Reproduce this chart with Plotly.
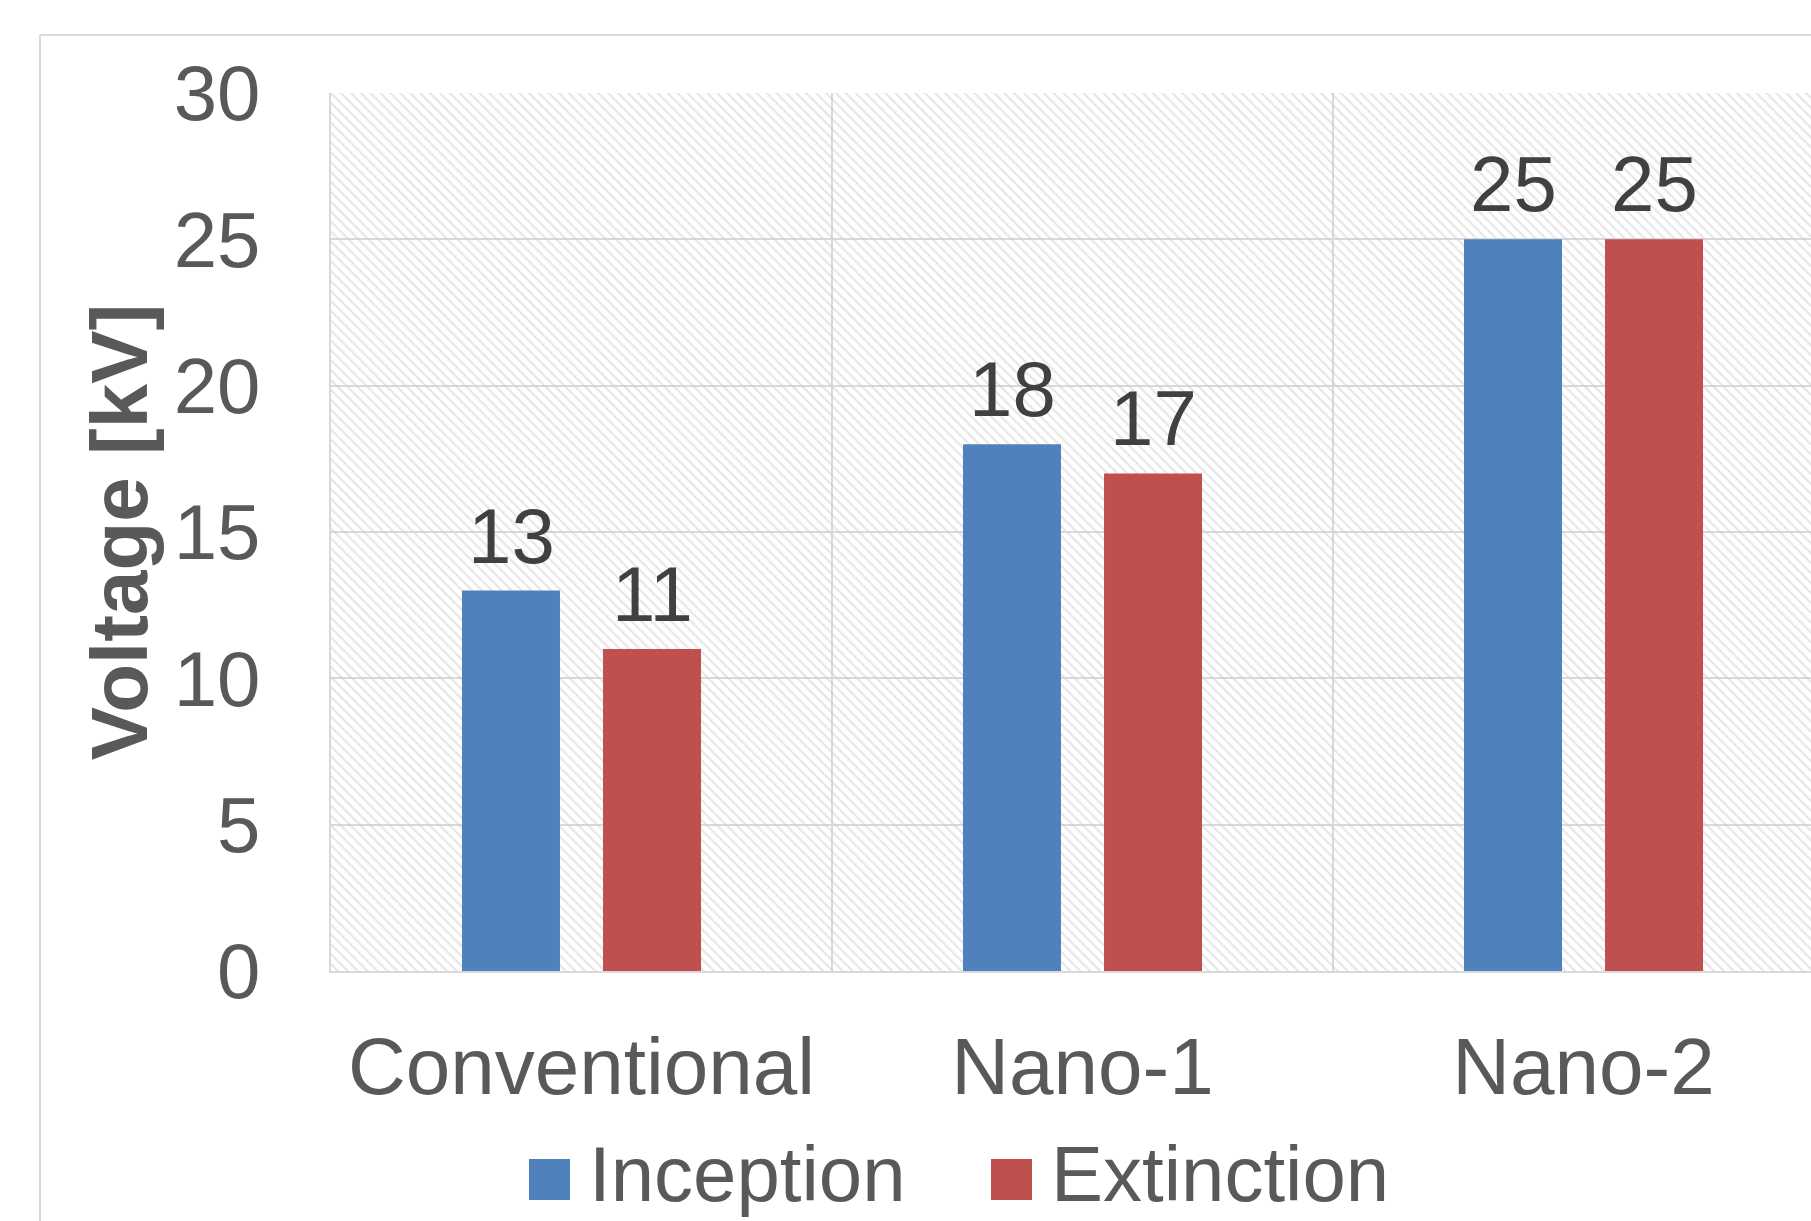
import plotly.graph_objects as go

categories = ["Conventional", "Nano-1", "Nano-2"]
inception = [13, 18, 25]
extinction = [11, 17, 25]
series_names = ["Inception", "Extinction"]
y_ticks = [0, 5, 10, 15, 20, 25, 30]

W, H = 1811, 1221
L, T, R, B = 331, 93, 0, 250
PW, PH = W - L - R, H - T - B

def px_x(x):
    return (x - L) / PW

def px_y(y):
    return (H - B - y) / PH

BLUE = "#4F81BD"
RED = "#C0504D"
GRID = "#d9d9d9"
FONT = "Liberation Sans, Arial, sans-serif"

fig = go.Figure()

# hatched plot-area background
fig.add_trace(go.Bar(
    x=[0.5], y=[max(y_ticks)], width=[1], xaxis="x", yaxis="y",
    marker=dict(color="rgba(0,0,0,0)", line=dict(width=0),
                pattern=dict(shape="\\", fgcolor="#cccccc", bgcolor="rgba(0,0,0,0)",
                             size=7, solidity=0.3)),
    showlegend=False, hoverinfo="skip",
))

for name, vals, col in zip(series_names, [inception, extinction], [BLUE, RED]):
    fig.add_trace(go.Bar(
        x=categories, y=vals, name=name, xaxis="x2", yaxis="y",
        marker=dict(color=col, line=dict(width=0)),
        hoverinfo="x+y",
    ))

# data labels
for vals, dx in zip([inception, extinction], [-70.5, 70.5]):
    for c, v in zip(categories, vals):
        fig.add_annotation(x=c, y=v, xref="x2", yref="y", text=str(v),
                           showarrow=False, xanchor="center", yanchor="bottom",
                           xshift=dx, yshift=9,
                           font=dict(family=FONT, size=78, color="#404040"))

cat_band = PW / 501.0
fig.update_layout(
    width=W, height=H,
    margin=dict(l=L, r=R, t=T, b=B, pad=0),
    paper_bgcolor="white", plot_bgcolor="white",
    barmode="group", bargap=0.437, bargroupgap=0.305,
    showlegend=False,
    font=dict(family=FONT, size=78, color="#595959"),
    xaxis=dict(range=[0, 1], visible=False, showgrid=False, fixedrange=True),
    xaxis2=dict(overlaying="x", type="category", categoryorder="array",
                categoryarray=categories,
                range=[-0.5, cat_band - 0.5], tickson="boundaries",
                showgrid=True, gridcolor=GRID, gridwidth=2,
                showline=True, linecolor=GRID, linewidth=2,
                ticks="", ticklabelstandoff=25,
                tickfont=dict(family=FONT, size=80, color="#595959"),
                side="bottom", anchor="y", zeroline=False),
    yaxis=dict(range=[0, 30], tickvals=y_ticks, showgrid=True, gridcolor=GRID,
               gridwidth=2, zeroline=False, showline=True, linecolor=GRID, linewidth=2,
               ticks="outside", ticklen=53, tickcolor="rgba(0,0,0,0)",
               tickfont=dict(family=FONT, size=78, color="#595959"),
               title=dict(text="<b>Voltage [kV]</b>", standoff=0,
                          font=dict(family=FONT, size=80, color="#595959"))),
)

# outer chart border (top and left edges visible)
fig.add_shape(type="line", xref="paper", yref="paper",
              x0=px_x(40), x1=px_x(W + 10), y0=px_y(35), y1=px_y(35),
              line=dict(color=GRID, width=2))
fig.add_shape(type="line", xref="paper", yref="paper",
              x0=px_x(40), x1=px_x(40), y0=px_y(35), y1=px_y(H + 10),
              line=dict(color=GRID, width=2))

# custom legend
legend_items = [(series_names[0], BLUE, 529, 587), (series_names[1], RED, 991, 1049)]
for name, col, sx, tx in legend_items:
    fig.add_shape(type="rect", xref="paper", yref="paper",
                  x0=px_x(sx), x1=px_x(sx + 41), y0=px_y(1159), y1=px_y(1200),
                  fillcolor=col, line=dict(width=0))
    fig.add_annotation(text=name, xref="paper", yref="paper",
                       x=px_x(tx), y=px_y(1220), xanchor="left", yanchor="bottom",
                       showarrow=False,
                       font=dict(family=FONT, size=78, color="#595959"))

fig.write_html("out.html")
